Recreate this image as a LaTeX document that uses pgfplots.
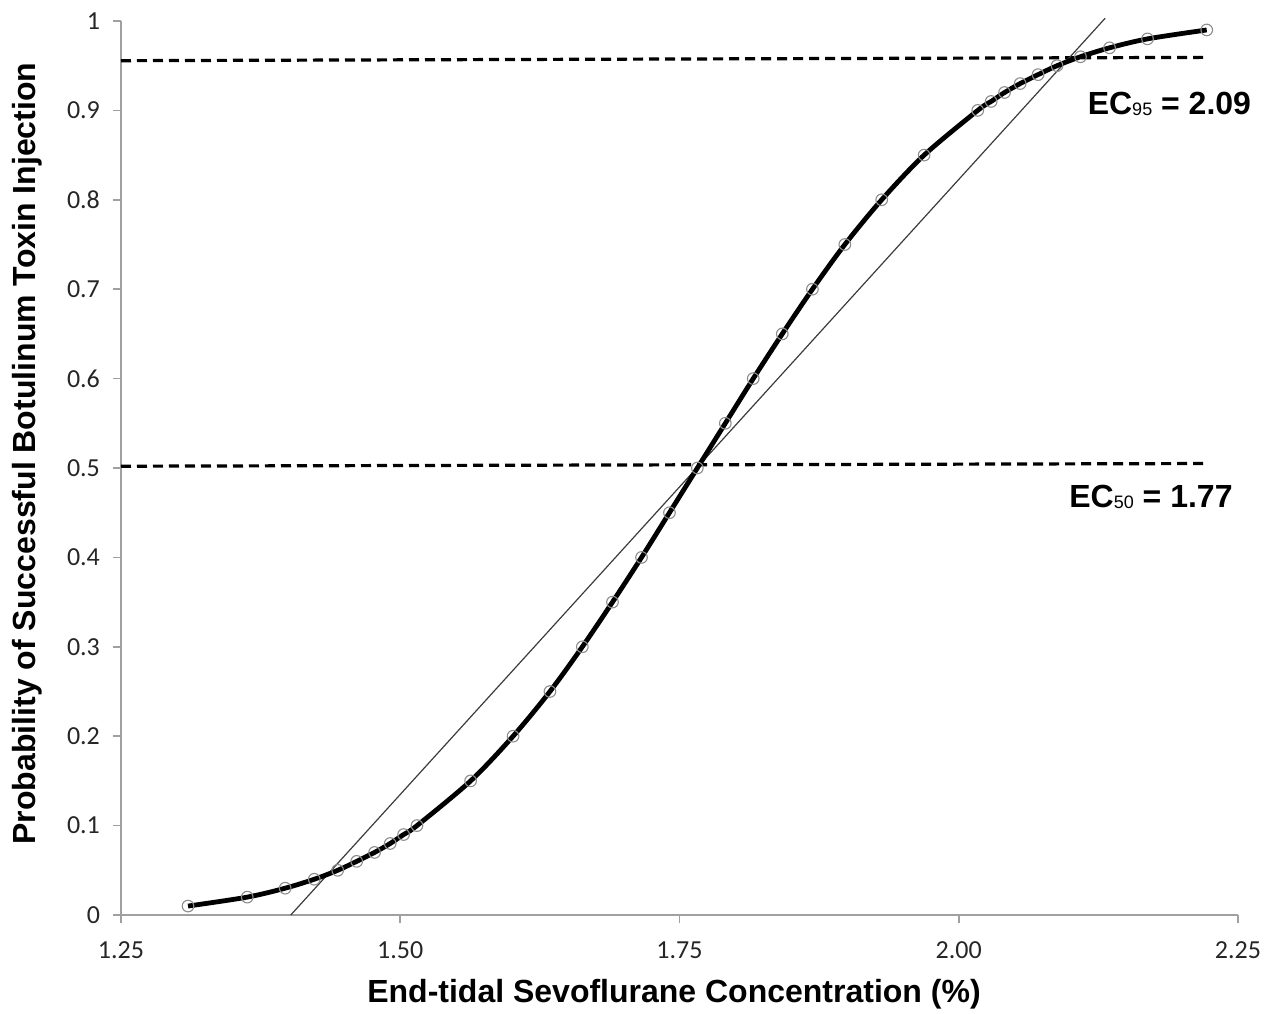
\documentclass[border=0pt]{standalone}
\usepackage{fontspec}
\setmainfont{Liberation Sans}
\newfontfamily\calibri{Carlito}
\usepackage{pgfplots}
\usepackage{pgfplotstable}
\pgfplotsset{compat=1.18}
\definecolor{axgray}{HTML}{A0A0A0}
\definecolor{tickgray}{HTML}{262626}
\definecolor{mkgray}{HTML}{8C8C8C}
\definecolor{tangray}{HTML}{3C3C3C}
\pgfplotstableread{
x p
1.310 0.01
1.363 0.02
1.397 0.03
1.423 0.04
1.444 0.05
1.461 0.06
1.477 0.07
1.491 0.08
1.503 0.09
1.515 0.10
1.563 0.15
1.601 0.20
1.634 0.25
1.663 0.30
1.690 0.35
1.716 0.40
1.741 0.45
1.766 0.50
1.791 0.55
1.816 0.60
1.842 0.65
1.869 0.70
1.898 0.75
1.931 0.80
1.969 0.85
2.017 0.90
2.029 0.91
2.041 0.92
2.055 0.93
2.071 0.94
2.088 0.95
2.109 0.96
2.135 0.97
2.169 0.98
2.222 0.99
}\curve
\begin{document}
\begin{tikzpicture}
\begin{axis}[
  at={(0,0)}, anchor=south west,
  scale only axis, width=558.5pt, height=447pt,
  xmin=1.25, xmax=2.25, ymin=0, ymax=1,
  axis lines*=left,
  axis line style={axgray, line width=0.8pt, -},
  clip=false,
  xtick={1.25,1.5,1.75,2,2.25},
  xticklabels={1.25,1.50,1.75,2.00,2.25},
  ytick={0,0.1,0.2,0.3,0.4,0.5,0.6,0.7,0.8,0.9,1},
  yticklabels={0,0.1,0.2,0.3,0.4,0.5,0.6,0.7,0.8,0.9,1},
  /pgf/number format/assume math mode=true,
  tick align=outside,
  major tick length=4pt,
  tick style={axgray, line width=0.8pt},
  every tick label/.append style={font=\calibri\fontsize{13}{15}\selectfont, text=tickgray},
  yticklabel style={xshift=-3pt},
  xticklabel style={yshift=-6pt},
  xlabel={End-tidal Sevoflurane Concentration (\%)},
  ylabel={Probability of Successful Botulinum Toxin Injection},
  label style={font=\fontsize{16}{19}\selectfont\bfseries},
  xlabel style={at={([xshift=-2.75pt,yshift=-39.5pt]axis description cs:0.5,0)}, anchor=center},
  ylabel style={at={([xshift=-47pt,yshift=7.25pt]axis description cs:0,0.5)}, anchor=center, rotate=0},
]
% dashed reference lines
\addplot[black, line width=1.6pt, dash pattern=on 5pt off 3pt] coordinates {(1.25,0.9556) (2.22,0.9593)};
\addplot[black, line width=1.6pt, dash pattern=on 5pt off 3pt] coordinates {(1.25,0.502) (2.22,0.505)};
% tangent line
\addplot[tangray, line width=0.6pt] coordinates {(1.402,0) (2.131,1.003)};
% fitted curve
\addplot[black, line width=2.4pt, smooth] table[x=x, y=p] {\curve};
% points
\addplot[only marks, mark=o, mark size=2.9pt, mark options={mkgray, line width=0.55pt}] table[x=x, y=p] {\curve};
\node[anchor=base east, inner sep=0pt, font=\fontsize{16}{19}\selectfont\bfseries] at (axis cs:2.2455,0.456)
  {EC\raisebox{-0.5pt}{\mdseries\fontsize{9}{10}\selectfont 50} = 1.77};
\node[anchor=base east, inner sep=0pt, font=\fontsize{16}{19}\selectfont\bfseries] at (axis cs:2.262,0.895)
  {EC\raisebox{-0.5pt}{\mdseries\fontsize{9}{10}\selectfont 95} = 2.09};
\end{axis}
\pgfresetboundingbox
\useasboundingbox (-60.5pt,-49pt) rectangle (573.5pt,457.5pt);
\end{tikzpicture}
\end{document}
